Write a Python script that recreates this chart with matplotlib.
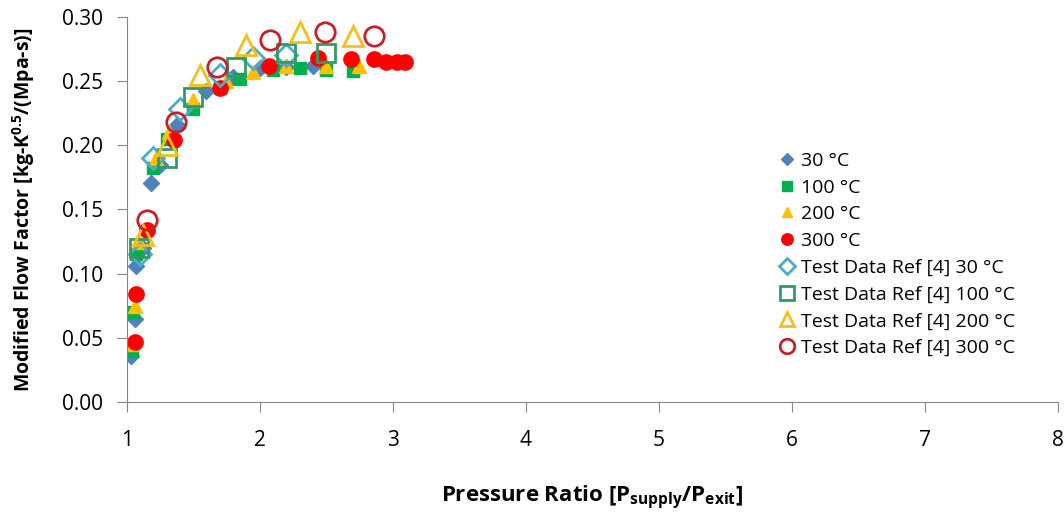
import numpy as np
import matplotlib
matplotlib.use("Agg")
import matplotlib.pyplot as plt

plt.rcParams['font.family'] = ['Open Sans', 'DejaVu Sans']
plt.rcParams['mathtext.fontset'] = 'custom'
plt.rcParams['mathtext.rm'] = 'Open Sans'
plt.rcParams['mathtext.bf'] = 'Open Sans:bold'

# model results
x30 = [1.03, 1.06, 1.07, 1.12, 1.18, 1.25, 1.38, 1.6, 1.8, 2.0, 2.2, 2.4]
y30 = [0.036, 0.065, 0.106, 0.12, 0.171, 0.185, 0.216, 0.242, 0.253, 0.26, 0.261, 0.262]
x100 = [1.04, 1.05, 1.07, 1.2, 1.3, 1.5, 1.7, 1.85, 2.1, 2.3, 2.5, 2.7]
y100 = [0.04, 0.07, 0.115, 0.182, 0.205, 0.228, 0.245, 0.252, 0.259, 0.26, 0.259, 0.258]
x200 = [1.04, 1.06, 1.09, 1.22, 1.32, 1.5, 1.75, 1.95, 2.2, 2.5, 2.75]
y200 = [0.045, 0.075, 0.125, 0.19, 0.21, 0.235, 0.25, 0.257, 0.262, 0.262, 0.262]
x300 = [1.06, 1.07, 1.15, 1.36, 1.7, 2.07, 2.44, 2.69, 2.86, 2.95, 3.03, 3.09]
y300 = [0.047, 0.084, 0.134, 0.204, 0.245, 0.262, 0.268, 0.267, 0.267, 0.265, 0.265, 0.265]

# test data ref [4]
tx30 = [1.1, 1.2, 1.4, 1.7, 1.95, 2.2]
ty30 = [0.115, 0.19, 0.228, 0.255, 0.268, 0.27]
tx100 = [1.09, 1.3, 1.5, 1.82, 2.2, 2.5]
ty100 = [0.12, 0.19, 0.238, 0.261, 0.272, 0.272]
tx200 = [1.12, 1.3, 1.55, 1.9, 2.3, 2.7]
ty200 = [0.13, 0.2, 0.255, 0.278, 0.288, 0.285]
tx300 = [1.15, 1.37, 1.68, 2.08, 2.49, 2.86]
ty300 = [0.142, 0.218, 0.261, 0.282, 0.288, 0.285]

fig = plt.figure(figsize=(10.64, 5.14), dpi=100)
ax = fig.add_axes([0.119, 0.218, 0.875, 0.749])

ax.plot(x30, y30, 'D', color='#4F81BD', ms=8, ls='none', label='30 \u00b0C')
ax.plot(x100, y100, 's', color='#00B050', ms=9, ls='none', label='100 \u00b0C')
ax.plot(x200, y200, '^', color='#FFC000', ms=10, ls='none', label='200 \u00b0C')
ax.plot(x300, y300, 'o', color='#FF0000', ms=11, ls='none', label='300 \u00b0C')
ax.plot(tx30, ty30, 'D', mfc='none', mec='#4BACC6', mew=2, ms=11, ls='none',
        label='Test Data Ref [4] 30 \u00b0C')
ax.plot(tx100, ty100, 's', mfc='none', mec='#339966', mew=2, ms=13, ls='none',
        label='Test Data Ref [4] 100 \u00b0C')
ax.plot(tx200, ty200, '^', mfc='none', mec='#F2C01E', mew=2, ms=14, ls='none',
        label='Test Data Ref [4] 200 \u00b0C')
ax.plot(tx300, ty300, 'o', mfc='none', mec='#C8202A', mew=2, ms=14, ls='none',
        label='Test Data Ref [4] 300 \u00b0C')

ax.set_xlim(1, 8)
ax.set_ylim(0, 0.30)
ax.set_xticks(np.arange(1, 9))
ax.set_yticks(np.arange(0, 0.31, 0.05))
ax.set_yticklabels(['%.2f' % v for v in np.arange(0, 0.31, 0.05)])
for s in ['top', 'right']:
    ax.spines[s].set_visible(False)
for s in ['left', 'bottom']:
    ax.spines[s].set_color('#868686')
ax.tick_params(axis='both', colors='#868686', labelcolor='black', labelsize=15, length=7)
ax.tick_params(axis='y', pad=10)
ax.tick_params(axis='x', pad=13)

ax.set_xlabel(r'Pressure Ratio [P$_{\mathbf{supply}}$/P$_{\mathbf{exit}}$]',
              fontsize=16, fontweight='bold', labelpad=24)
ax.set_ylabel(r'Modified Flow Factor [kg-K$^{\mathbf{0.5}}$/(Mpa-s)]',
              fontsize=14, fontweight='bold', labelpad=18)

ax.legend(loc='upper left', bbox_to_anchor=(0.69, 0.67), frameon=False,
          fontsize=14, handletextpad=0.15, labelspacing=0.45, handlelength=1.1,
          markerscale=0.75, borderaxespad=0)

fig.savefig('out.png', dpi=100)
